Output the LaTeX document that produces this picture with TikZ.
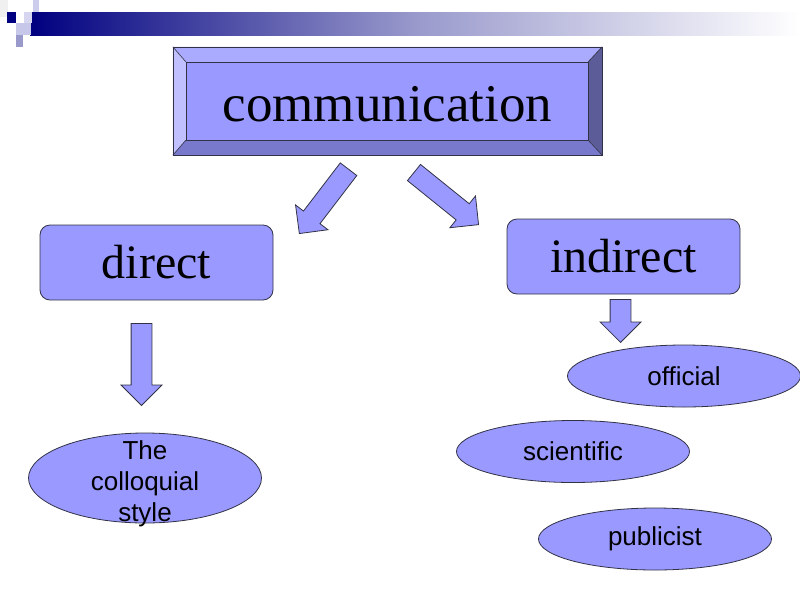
\documentclass[tikz,border=0pt]{standalone}
\usepackage{fontspec}
\setmainfont{Liberation Serif}
\setsansfont{Liberation Sans}
\usepackage{tikz}
\usetikzlibrary{calc,shapes.geometric,shapes.arrows}
\definecolor{boxface}{RGB}{153,153,255}
\definecolor{bevellight}{RGB}{192,192,255}
\definecolor{beveltop}{RGB}{170,170,255}
\definecolor{beveldark}{RGB}{92,92,153}
\definecolor{bevelbottom}{RGB}{120,120,204}
\definecolor{edgeline}{RGB}{50,50,70}
\definecolor{headnavy}{RGB}{0,0,128}
\definecolor{headlilac}{RGB}{204,204,236}
\definecolor{headmid}{RGB}{153,153,204}
\newcommand{\bigfont}{\fontsize{53}{60}\selectfont}
\newcommand{\midfont}{\fontsize{48}{54}\selectfont}
\newcommand{\smallsans}{\sffamily\fontsize{26}{31}\selectfont}
% block arrow, #1 name, #2 tip position, #3 angle, #4 length
\newcommand{\blockarrow}[4]{%
  \node[blockarr,minimum height=#4,rotate=#3,anchor=tip] (#1) at #2 {};
}

\begin{document}
\begin{tikzpicture}[x=1pt,y=-1pt,
    stylebox/.style={draw=edgeline,fill=boxface,rounded corners=10pt,
      minimum width=233pt,minimum height=75pt,line width=0.8pt,font=\midfont},
    styleoval/.style={ellipse,draw=edgeline,fill=boxface,inner sep=0pt,
      minimum width=233pt,minimum height=62pt,line width=0.8pt,font=\smallsans},
    blockarr/.style={single arrow,draw=edgeline,fill=boxface,line width=0.8pt,
      inner xsep=0pt,inner ysep=10pt,minimum width=40pt,
      single arrow head extend=10pt}]
    \useasboundingbox (0,0) rectangle (800,600);
    % header band
    \fill[black!6] (0,0) rectangle (8,17);
    \shade[left color=headnavy,right color=white,middle color=headmid]
      (30,12) rectangle (800,35);
    \fill[headnavy] (7,12) rectangle (16,23);
    \fill[headlilac] (33,0) rectangle (39,12);
    \fill[headlilac!80!white] (24,12) rectangle (32,23);
    \fill[headlilac!90!headmid] (16,23) rectangle (31,35);
    \fill[headmid] (16,35) rectangle (23,47);
    % top bevelled box
    \node[minimum width=429pt,minimum height=108pt,inner sep=0pt] (comm) at (387.5,101) {};
    \coordinate (cinnw) at ($(comm.north west)+(13,15)$);
    \coordinate (cinne) at ($(comm.north east)+(-14,15)$);
    \coordinate (cinsw) at ($(comm.south west)+(13,-15)$);
    \coordinate (cinse) at ($(comm.south east)+(-14,-15)$);
    \fill[beveltop] (comm.north west) -- (comm.north east) -- (cinne) -- (cinnw) -- cycle;
    \fill[bevellight] (comm.north west) -- (cinnw) -- (cinsw) -- (comm.south west) -- cycle;
    \fill[beveldark] (comm.north east) -- (comm.south east) -- (cinse) -- (cinne) -- cycle;
    \fill[bevelbottom] (comm.south west) -- (cinsw) -- (cinse) -- (comm.south east) -- cycle;
    \fill[boxface] (cinnw) rectangle (cinse);
    \draw[edgeline,line width=0.6pt] (comm.north west) rectangle (comm.south east);
    \draw[edgeline,line width=0.6pt] (cinnw) rectangle (cinse);
    \draw[edgeline,line width=0.6pt] (comm.north west) -- (cinnw)
      (comm.north east) -- (cinne) (comm.south west) -- (cinsw)
      (comm.south east) -- (cinse);
    \node[font=\bigfont,inner sep=0pt] (commtext) at ($(comm)+(0,3)$) {communication};
    % second level
    \node[stylebox] (direct) at (156.5,262.5) {direct};
    \node[stylebox] (indirect) at (623.5,256.5) {indirect};
    \blockarrow{arrleft}{(299,234)}{232.6}{81pt}
    \blockarrow{arrright}{(479,225)}{-38.9}{83pt}
    \blockarrow{arrdirect}{(141.5,406)}{-90}{82pt}
    \blockarrow{arrindirect}{(620.5,343)}{-90}{43pt}
    % styles
    \node[styleoval,minimum height=90pt] (colloq) at (145,478) {};
    \node[font=\smallsans,align=center] (colloqtext) at ($(colloq)+(0,6)$)
      {The\\colloquial\\style};
    \node[styleoval] (official) at (684,376) {official};
    \node[styleoval] (scientific) at (573,451.5) {scientific};
    \node[styleoval] (publicist) at (655,539) {publicist};
  \end{tikzpicture}
\end{document}
